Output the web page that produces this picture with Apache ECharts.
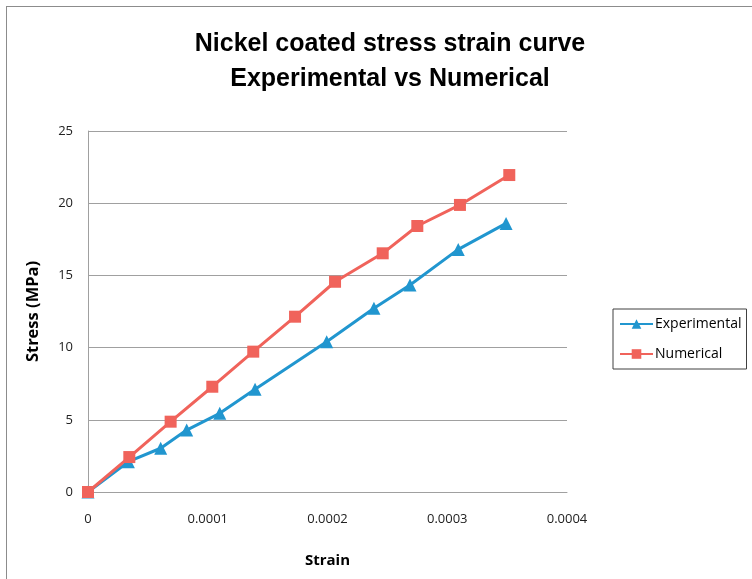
<!DOCTYPE html>
<html><head><meta charset="utf-8">
<script src="https://cdn.jsdelivr.net/npm/echarts@6/dist/echarts.min.js"></script>
<style>
html,body{margin:0;padding:0;background:#fff;overflow:hidden}
#frame{position:absolute;left:6px;top:6px;width:800px;height:640px;border:1px solid #8c8c8c;box-sizing:border-box}
#c{position:absolute;left:0;top:0;width:752px;height:579px}
</style></head>
<body><div id="frame"></div><div id="c"></div>
<script>
const titleLines = ['Nickel coated stress strain curve', 'Experimental vs Numerical'];
const seriesNames = ['Experimental', 'Numerical'];
const expStrain = [0, 0.0000337, 0.0000607, 0.0000824, 0.000110, 0.0001395, 0.0001993, 0.0002388, 0.0002689, 0.0003092, 0.0003491];
const expStress = [0, 2.1, 3.03, 4.29, 5.45, 7.11, 10.41, 12.72, 14.33, 16.8, 18.6];
const numStrain = [0, 0.0000345, 0.000069, 0.0001038, 0.000138, 0.0001729, 0.0002063, 0.0002461, 0.000275, 0.0003106, 0.0003518];
const numStress = [0, 2.42, 4.87, 7.29, 9.72, 12.14, 14.56, 16.53, 18.42, 19.88, 21.95];
const xAxisName = 'Strain';
const yAxisName = 'Stress (MPa)';

const font = '"Liberation Sans Narrow", "Liberation Sans", sans-serif';
const chart = echarts.init(document.getElementById('c'));
chart.setOption({
  animation: false,
  title: {
    text: titleLines.join('\n'),
    left: 385, top: 22, textAlign: 'center',
    textStyle: {fontFamily: font, fontWeight: 'bold', fontSize: 25, lineHeight: 35, color: '#000'}
  },
  legend: {
    orient: 'vertical', left: 613, top: 309,
    padding: [8, 5, 8, 6], itemGap: 16,
    borderColor: '#404040', borderWidth: 1,
    itemWidth: 33, itemHeight: 12,
    textStyle: {fontFamily: '"Open Sans", sans-serif', fontSize: 14, color: '#000', padding: [0, 0, 0, -3]},
    data: seriesNames
  },
  grid: {left: 88, top: 131, width: 479, height: 361, containLabel: false},
  xAxis: {
    type: 'value', min: 0, max: 0.0004, interval: 0.0001,
    name: xAxisName, nameLocation: 'middle', nameGap: 61,
    nameTextStyle: {fontFamily: '"Open Sans", sans-serif', fontWeight: 'bold', fontSize: 15, color: '#000'},
    axisLine: {show: true, lineStyle: {color: '#a0a0a0'}},
    axisTick: {show: false},
    splitLine: {show: false},
    axisLabel: {fontFamily: '"Open Sans", sans-serif', fontSize: 13, color: '#222', margin: 21,
      formatter: v => String(+v.toFixed(4))}
  },
  yAxis: {
    type: 'value', min: 0, max: 25, interval: 5,
    name: yAxisName, nameLocation: 'middle', nameGap: 46, nameRotate: 90,
    nameTextStyle: {fontFamily: '"Open Sans", sans-serif', fontWeight: 'bold', fontSize: 16.5, color: '#000'},
    axisLine: {show: true, lineStyle: {color: '#a0a0a0'}},
    axisTick: {show: false},
    splitLine: {show: true, lineStyle: {color: '#a0a0a0'}},
    axisLabel: {fontFamily: '"Open Sans", sans-serif', fontSize: 13, color: '#222', margin: 15}
  },
  series: [
    {
      name: seriesNames[0], type: 'line',
      data: expStrain.map((x, i) => [x, expStress[i]]),
      symbol: 'triangle', symbolSize: 13,
      lineStyle: {width: 3, color: '#2196cf'},
      itemStyle: {color: '#2196cf'}
    },
    {
      name: seriesNames[1], type: 'line',
      data: numStrain.map((x, i) => [x, numStress[i]]),
      symbol: 'rect', symbolSize: 12,
      lineStyle: {width: 3, color: '#f0635b'},
      itemStyle: {color: '#f0635b'}
    }
  ]
});
</script></body></html>
